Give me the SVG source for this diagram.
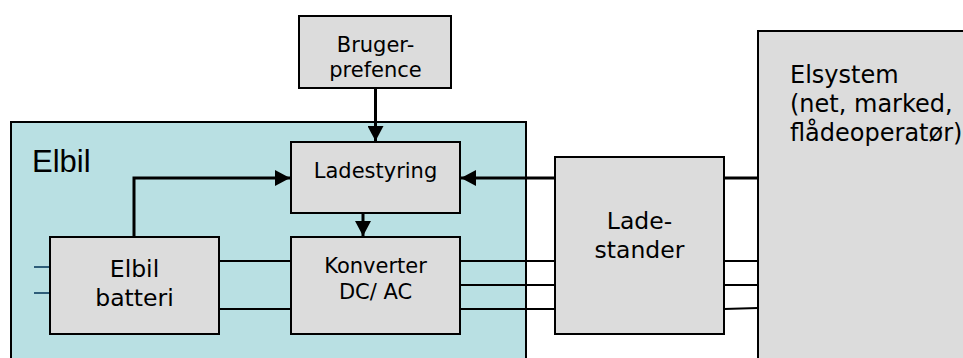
<svg xmlns="http://www.w3.org/2000/svg" width="963" height="358" viewBox="0 0 963 358">
<defs>
<style>
.box{fill:#dcdcdc;stroke:#000;stroke-width:2}
.lbl{font-family:"DejaVu Sans",Verdana,sans-serif;font-size:21px;fill:#000;text-anchor:middle}
.big{font-size:23.5px}
.thick{fill:none;stroke:#000;stroke-width:3}
.thin{fill:none;stroke:#000;stroke-width:1.8}
.stub{fill:none;stroke:#1f4e6e;stroke-width:1.8}
</style>
<marker id="ah" markerUnits="userSpaceOnUse" markerWidth="16" markerHeight="16" refX="15" refY="8" orient="auto" viewBox="0 0 16 16">
<path d="M0,0 L15,8 L0,16 z" fill="#000"/>
</marker>
</defs>
<rect width="963" height="358" fill="#fff"/>
<g id="elbil">
<rect x="11" y="122" width="515" height="250" fill="#b9e0e3" stroke="#000" stroke-width="2"/>
<text x="32" y="172" font-family="Liberation Sans, Arial, sans-serif" font-size="31" fill="#000">Elbil</text>
</g>
<g id="connectors">
<line class="thick" x1="375.5" y1="88" x2="375.5" y2="141" marker-end="url(#ah)"/>
<polyline class="thick" points="134,237 134,178 290,178" marker-end="url(#ah)"/>
<line class="thick" x1="758" y1="178" x2="461" y2="178" marker-end="url(#ah)"/>
<line class="thick" x1="363" y1="213" x2="363" y2="236" marker-end="url(#ah)"/>
<line class="thin" x1="219" y1="261" x2="291" y2="261"/>
<line class="thin" x1="219" y1="309" x2="291" y2="309"/>
<line class="stub" x1="34" y1="267" x2="50" y2="267"/>
<line class="stub" x1="34" y1="293" x2="50" y2="293"/>
<line class="thin" x1="460" y1="261" x2="555" y2="261"/>
<line class="thin" x1="460" y1="285" x2="555" y2="285"/>
<line class="thin" x1="460" y1="309" x2="555" y2="309"/>
<line class="thin" x1="724" y1="261" x2="758" y2="261"/>
<line class="thin" x1="724" y1="285" x2="758" y2="285"/>
<line class="thin" x1="724" y1="309" x2="758" y2="308"/>
</g>
<g id="bruger">
<rect class="box" x="299" y="16" width="152" height="72"/>
<text class="lbl" x="375.5" y="52">Bruger-</text>
<text class="lbl" x="375.5" y="77">prefence</text>
</g>
<g id="ladestyring">
<rect class="box" x="291" y="142" width="169" height="71"/>
<text class="lbl" x="375.5" y="178">Ladestyring</text>
</g>
<g id="batteri">
<rect class="box" x="50" y="237" width="169" height="97"/>
<text class="lbl big" x="134.5" y="277">Elbil</text>
<text class="lbl big" x="134.5" y="306">batteri</text>
</g>
<g id="konverter">
<rect class="box" x="291" y="237" width="169" height="97"/>
<text class="lbl" x="375.5" y="273">Konverter</text>
<text class="lbl" x="375.5" y="299">DC/ AC</text>
</g>
<g id="ladestander">
<rect class="box" x="555" y="157" width="169" height="177"/>
<text class="lbl big" x="639.5" y="229">Lade-</text>
<text class="lbl big" x="639.5" y="258">stander</text>
</g>
<g id="elsystem">
<rect class="box" x="758" y="31" width="230" height="350"/>
<text font-family="DejaVu Sans, Verdana, sans-serif" font-size="24" fill="#000">
<tspan x="790" y="83">Elsystem</tspan>
<tspan x="790" y="112">(net, marked,</tspan>
<tspan x="790" y="141">flådeoperatør)</tspan>
</text>
</g>
</svg>
